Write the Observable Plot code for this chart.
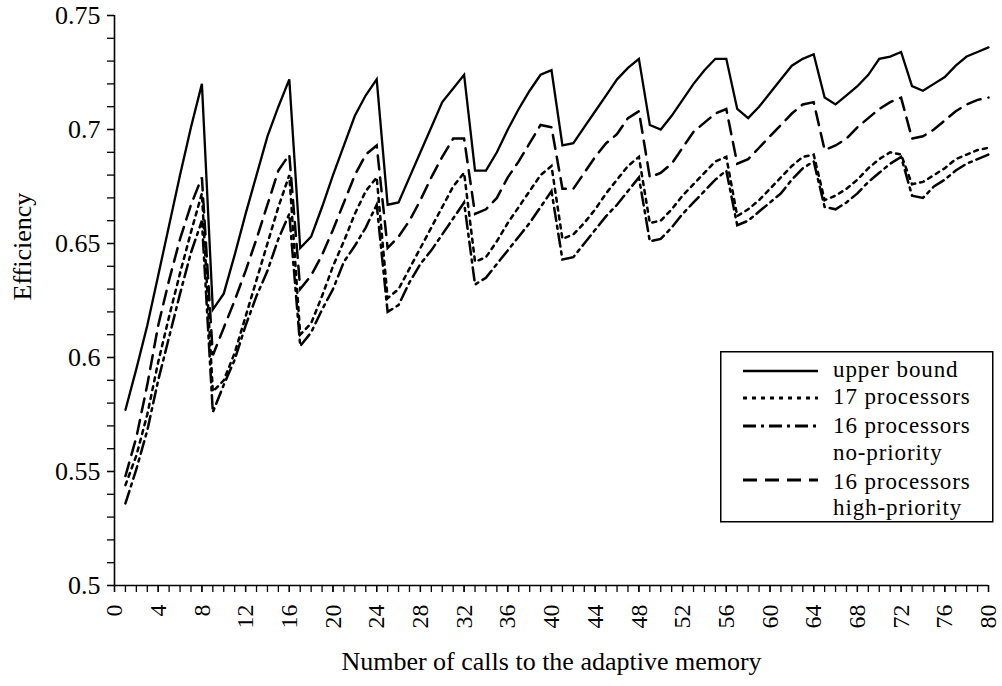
<!DOCTYPE html>
<html>
<head>
<meta charset="utf-8">
<script src="https://cdn.jsdelivr.net/npm/d3@7"></script>
<script src="https://cdn.jsdelivr.net/npm/@observablehq/plot@0.6"></script>
<style>
  body { margin: 0; background: #fff; }
  #wrap { position: relative; width: 1002px; height: 686px; font-family: "Liberation Serif", serif; }
  #legend { position: absolute; left: 720px; top: 351px; }
</style>
</head>
<body>
<div id="wrap"></div>
<script>
// ---- data ----
const calls = d3.range(1, 81);

const upperBound = [
  0.577,0.595,0.614,0.636,0.658,0.680,0.701,0.720,
  0.621,0.628,0.645,0.663,0.680,0.697,0.710,0.722,
  0.648,0.653,0.666,0.680,0.693,0.706,0.715,0.722,
  0.667,0.668,0.679,0.690,0.701,0.712,0.718,0.724,
  0.682,0.682,0.690,0.700,0.709,0.717,0.724,0.726,
  0.693,0.694,0.701,0.708,0.715,0.722,0.727,0.731,
  0.702,0.700,0.706,0.713,0.720,0.726,0.731,0.731,
  0.709,0.705,0.710,0.716,0.722,0.728,0.731,0.733,
  0.714,0.711,0.715,0.719,0.724,0.731,0.732,0.734,
  0.719,0.717,0.720,0.723,0.728,0.732,0.734,0.736
];

const proc17 = [
  0.544,0.557,0.575,0.598,0.618,0.637,0.655,0.672,
  0.585,0.590,0.602,0.618,0.634,0.650,0.666,0.680,
  0.610,0.615,0.627,0.640,0.651,0.663,0.673,0.679,
  0.626,0.630,0.639,0.648,0.657,0.666,0.675,0.681,
  0.642,0.644,0.651,0.659,0.666,0.673,0.680,0.684,
  0.652,0.654,0.659,0.665,0.672,0.678,0.684,0.688,
  0.659,0.660,0.665,0.671,0.676,0.681,0.686,0.688,
  0.662,0.665,0.669,0.674,0.679,0.684,0.688,0.689,
  0.669,0.671,0.674,0.678,0.683,0.687,0.690,0.689,
  0.676,0.677,0.680,0.683,0.687,0.689,0.691,0.692
];

const proc16NoPriority = [
  0.536,0.551,0.568,0.590,0.609,0.628,0.646,0.660,
  0.576,0.588,0.599,0.614,0.627,0.638,0.652,0.663,
  0.605,0.611,0.621,0.630,0.642,0.649,0.657,0.667,
  0.620,0.623,0.633,0.641,0.647,0.654,0.661,0.668,
  0.632,0.635,0.641,0.647,0.653,0.659,0.666,0.673,
  0.643,0.644,0.650,0.656,0.662,0.667,0.673,0.679,
  0.651,0.652,0.657,0.663,0.668,0.673,0.678,0.682,
  0.658,0.660,0.664,0.668,0.672,0.678,0.683,0.686,
  0.666,0.665,0.668,0.672,0.677,0.681,0.685,0.688,
  0.671,0.670,0.675,0.678,0.682,0.685,0.687,0.689
];

const proc16HighPriority = [
  0.548,0.565,0.588,0.614,0.634,0.652,0.667,0.679,
  0.601,0.613,0.625,0.638,0.652,0.667,0.682,0.689,
  0.630,0.636,0.645,0.656,0.668,0.680,0.689,0.693,
  0.648,0.653,0.660,0.669,0.679,0.688,0.696,0.696,
  0.663,0.665,0.670,0.679,0.686,0.694,0.702,0.701,
  0.674,0.674,0.681,0.688,0.694,0.698,0.705,0.708,
  0.679,0.681,0.685,0.692,0.699,0.703,0.707,0.709,
  0.685,0.687,0.692,0.697,0.702,0.707,0.711,0.712,
  0.691,0.693,0.696,0.701,0.705,0.709,0.712,0.714,
  0.696,0.697,0.700,0.704,0.708,0.711,0.713,0.714
];

const seriesLabels = [
  ["upper bound"],
  ["17 processors"],
  ["16 processors", "no-priority"],
  ["16 processors", "high-priority"]
];

const xTickValues = d3.range(0, 81, 4);
const xMinorTicks = d3.range(0, 81, 1);
const yTickValues = [0.5, 0.55, 0.6, 0.65, 0.7, 0.75];
const yTickLabels = ["0.5", "0.55", "0.6", "0.65", "0.7", "0.75"];
const yMinorTicks = d3.range(50, 76, 1).map(d => d / 100);

// ---- styles ----
const dashes = [null, "4,5", "13,5,3,5", "14,8"];
const widths = [2.3, 2.5, 2.5, 2.5];
const seriesValues = [upperBound, proc17, proc16NoPriority, proc16HighPriority];

const lineMarks = seriesValues.map((vals, i) =>
  Plot.line(calls.map((c, j) => ({calls: c, eff: vals[j]})), {
    x: "calls", y: "eff", stroke: "#000", strokeWidth: widths[i],
    strokeDasharray: dashes[i] || undefined, strokeLinejoin: "miter", strokeMiterlimit: 4
  })
);

const chart = Plot.plot({
  width: 1002,
  height: 686,
  marginLeft: 114,
  marginRight: 14,
  marginTop: 15,
  marginBottom: 101,
  x: {domain: [0, 80]},
  y: {domain: [0.5, 0.75]},
  style: {fontFamily: "'Liberation Serif', serif", fontSize: "25px", color: "#000", background: "#fff", overflow: "visible"},
  marks: [
    Plot.axisY(yMinorTicks, {tickSize: 7, tickFormat: () => "", label: null, strokeWidth: 1.3}),
    Plot.axisY(yTickValues, {tickSize: 7, tickPadding: 7, tickFormat: d => yTickLabels[yTickValues.indexOf(d)], label: null, fontSize: 26, strokeWidth: 1.3}),
    Plot.axisX(xMinorTicks, {tickSize: 7, tickFormat: () => "", label: null, strokeWidth: 1.3}),
    Plot.axisX(xTickValues, {tickSize: 7, tickPadding: 12, tickRotate: -90, label: null, fontSize: 24, strokeWidth: 1.3}),
    Plot.ruleX([0], {strokeWidth: 1.6}),
    Plot.ruleY([0.5], {strokeWidth: 1.6}),
    ...lineMarks,
    Plot.text(["Efficiency"], {frameAnchor: "left", dx: -92, rotate: -90, fontSize: 26, lineAnchor: "middle"}),
    Plot.text(["Number of calls to the adaptive memory"], {frameAnchor: "bottom", dy: 76, fontSize: 26, lineAnchor: "middle"})
  ]
});

const wrap = document.getElementById("wrap");
wrap.appendChild(chart);

// ---- legend (inside plot area, overlaid) ----
const lg = d3.select(wrap).append("svg")
  .attr("id", "legend")
  .attr("width", 274).attr("height", 173)
  .style("font-family", "'Liberation Serif', serif");
lg.append("rect").attr("x", 0.75).attr("y", 0.75).attr("width", 272).attr("height", 170)
  .attr("fill", "#fff").attr("stroke", "#000").attr("stroke-width", 1.5);
const swatchY = [20, 47, 75, 129];
const textY = [[26], [53], [82, 109], [138, 164]];
seriesLabels.forEach((lines, i) => {
  lg.append("line").attr("x1", 23).attr("x2", 98).attr("y1", swatchY[i]).attr("y2", swatchY[i])
    .attr("stroke", "#000").attr("stroke-width", widths[i] + 0.3)
    .attr("stroke-dasharray", dashes[i]);
  lines.forEach((t, k) => {
    lg.append("text").attr("x", 113).attr("y", textY[i][k]).attr("font-size", 23)
      .attr("letter-spacing", 0.9).text(t);
  });
});
</script>
</body>
</html>
